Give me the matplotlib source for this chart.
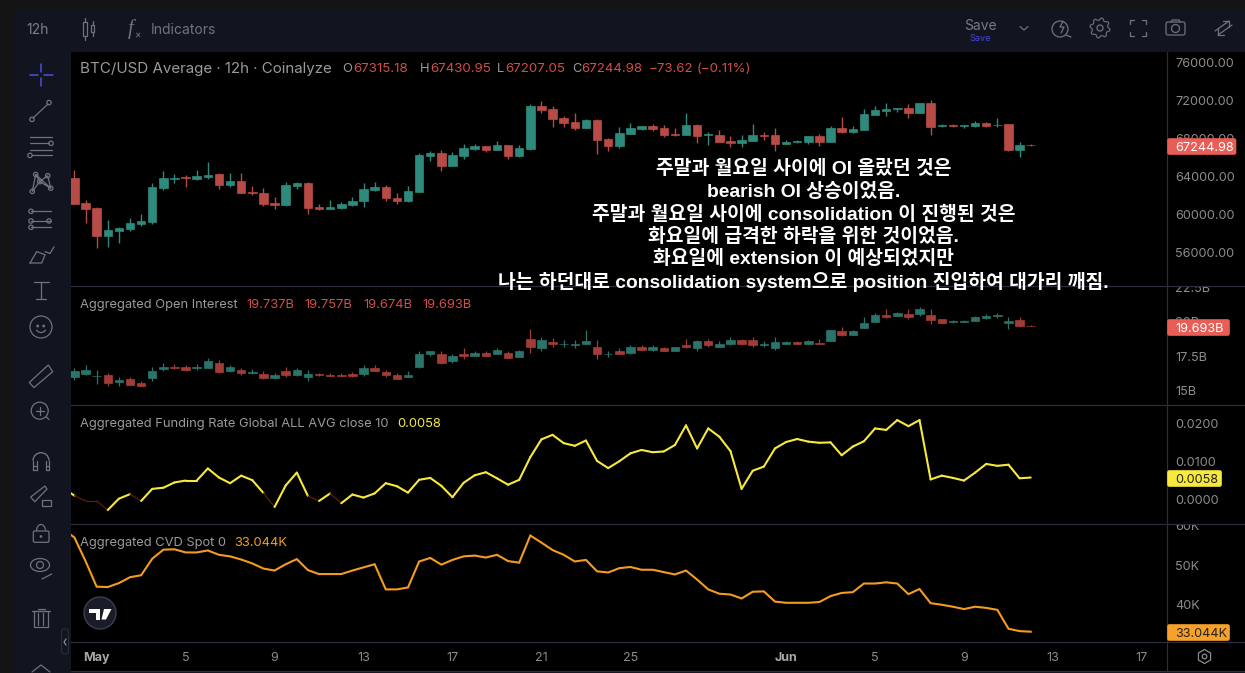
import numpy as np
import pandas as pd
import matplotlib
matplotlib.use("Agg")
import matplotlib.pyplot as plt
import matplotlib.dates as mdates
from matplotlib.patches import Rectangle, Circle, FancyBboxPatch, Polygon, Arc, Ellipse
from matplotlib.transforms import Bbox
from matplotlib.collections import LineCollection

W, H = 1245, 673
plt.rcParams['font.family'] = ['Inter', 'DejaVu Sans']

# ---------- data ----------
price_o = [63820,61190,60660,57720,58240,58450,58980,59190,62770,63720,63890,63720,63930,64240,63080,63500,62350,62240,61190,60980,62980,63300,60770,60560,60660,60980,61400,62560,62870,61720,61400,62350,66140,66450,65080,66140,66870,67190,66770,67300,66140,66870,71400,71080,70140,69720,69080,69930,67930,67190,68450,68980,69300,69080,68420,68350,69400,68350,68350,67720,67500,67720,68350,68350,67400,67610,67610,68240,67610,69080,68660,68870,70450,70870,71080,71190,70660,71720,69300,69400,69300,69300,69610,69360,69500,66770,67315.18]
price_h = [64660,61505,60770,59400,58660,59610,60030,63300,64560,64240,64100,64660,65500,64350,64350,64350,62980,62770,61820,63400,63400,63400,61080,61500,61300,61820,63300,63400,63080,62240,62980,66450,66660,66770,66560,67400,67400,67190,67720,67300,67300,71610,71930,71400,70350,70660,70030,70030,68030,69190,69610,69300,69500,69400,69080,70660,69500,68660,68870,68240,68350,69500,68660,69080,67820,67820,68240,68450,69300,70240,69300,71080,71400,71720,71190,71610,71720,72030,69500,69500,69360,69820,69720,70140,69500,67610,67430.95]
price_l = [61080,59080,56450,56560,56980,58240,58770,58980,62560,63300,62870,63610,63720,62660,62870,62240,62030,60870,60560,60870,62660,60030,60450,60560,60560,60870,60770,62450,61400,61080,61300,62350,65610,64560,65080,65820,66770,66560,66770,65820,66030,66770,70660,69190,69190,68870,69080,66350,66660,66980,68450,68870,68770,68140,68240,68350,67500,67300,67610,67080,67080,67720,67820,66660,67400,67500,67400,67190,67610,68560,68560,68870,70450,70350,70770,70140,70660,68350,69190,69190,69080,69190,69190,69190,66660,66030,67207.05]
price_c = [61080,60560,57720,58350,58560,59080,59290,62870,63820,63820,63790,64030,64140,63080,63500,62240,62240,61080,60980,63080,63300,60660,60560,60770,61080,61400,62660,62870,61720,61400,62450,66240,66450,65080,66240,66980,67190,66770,67300,66140,66980,71400,70980,70030,69610,69080,69930,67820,67190,68560,69080,69300,68980,68350,68350,69400,68240,68450,67610,67540,67820,68350,68240,67400,67610,67720,68240,67610,69080,68660,68980,70560,70980,71080,71190,70660,71720,69190,69400,69300,69360,69610,69300,69430,66770,67300,67244.98]

oi_o = [16.01,16.23,16.06,16.16,15.64,15.86,15.57,15.93,16.60,16.74,16.74,16.67,16.67,17.04,16.45,16.52,16.30,16.23,15.93,16.45,16.16,16.01,16.23,16.16,16.16,16.23,16.23,16.67,16.38,16.16,16.01,16.74,17.63,17.63,17.18,17.63,17.55,17.77,17.63,17.77,17.48,18.73,18.07,18.51,18.36,18.29,18.36,18.21,17.65,17.85,17.77,18.21,17.99,18.07,17.85,18.29,18.07,18.58,18.14,18.36,18.65,18.65,18.29,18.07,18.43,18.51,18.43,18.48,18.58,19.32,19.02,19.54,19.98,20.49,20.42,20.565,20.565,20.49,20.20,19.98,20.00,20.05,20.27,20.47,19.90,20.12,19.737]
oi_h = [16.67,16.89,16.52,16.30,16.01,16.01,15.71,16.74,17.04,16.96,16.89,16.96,17.40,17.25,16.89,16.67,16.60,16.45,16.30,16.74,16.67,16.52,16.30,16.30,16.30,16.38,16.89,16.89,16.52,16.30,16.45,17.92,17.92,17.85,17.70,18.07,17.92,17.85,18.07,17.92,17.99,19.46,18.87,18.80,18.65,18.65,19.39,18.65,17.92,18.07,18.29,18.29,18.29,18.14,18.21,18.73,18.65,18.73,18.58,18.87,18.73,18.87,18.58,18.87,18.58,18.58,18.65,18.73,19.39,19.61,19.39,20.345,20.64,20.93,20.71,20.93,21.08,20.93,20.20,20.12,20.12,20.42,20.565,20.64,20.345,20.345,19.757]
oi_l = [15.79,16.16,15.49,15.35,15.35,15.42,15.35,15.71,16.45,16.60,16.45,16.52,16.67,16.30,16.38,16.16,16.23,15.86,15.86,16.01,16.08,15.71,16.08,16.08,16.08,16.01,16.08,16.45,16.01,15.86,16.01,16.67,17.55,16.96,17.04,17.33,17.55,17.55,17.63,17.40,17.48,17.77,17.92,18.21,18.21,18.07,18.36,17.33,17.48,17.63,17.70,17.99,17.92,17.85,17.85,18.07,17.92,18.21,18.14,18.29,18.36,18.21,18.21,17.99,18.36,18.36,18.36,18.36,18.58,18.95,19.02,19.54,19.98,20.27,20.42,20.20,20.42,19.83,19.83,19.90,19.98,20.05,20.20,20.27,19.46,19.61,19.674]
oi_c = [16.45,16.52,16.08,15.57,15.79,15.42,15.35,16.45,16.74,16.67,16.52,16.74,17.18,16.38,16.74,16.30,16.38,15.93,16.16,16.16,16.52,16.23,16.16,16.08,16.08,16.08,16.67,16.45,16.16,15.86,16.16,17.63,17.85,17.04,17.55,17.55,17.77,17.55,17.99,17.40,17.92,18.14,18.65,18.36,18.43,18.36,18.58,17.70,17.70,17.70,18.14,17.99,18.14,17.85,18.14,18.21,18.58,18.29,18.43,18.65,18.43,18.29,18.43,18.51,18.51,18.41,18.58,18.41,19.39,19.02,19.32,19.90,20.49,20.345,20.64,20.345,20.93,20.12,19.90,20.05,20.05,20.345,20.42,20.52,20.05,19.68,19.693]

# the line panes also show the bar just before the first candle
funding = [0.0030,0.0010,-0.0004,-0.0004,-0.0028,0.0002,0.0014,-0.0004,0.0028,0.0031,0.0045,0.0050,0.0050,0.0082,0.0058,0.0043,0.0063,0.0051,0.0017,-0.0020,0.0037,0.0071,0.0009,-0.0004,0.0016,-0.0010,0.0013,0.0005,0.0016,0.0043,0.0035,0.0018,0.0052,0.0057,0.0036,0.0006,0.0044,0.0064,0.0072,0.0056,0.0039,0.0052,0.0112,0.0159,0.0171,0.0149,0.0142,0.0156,0.0102,0.0083,0.0101,0.0122,0.0131,0.0125,0.0127,0.0144,0.0196,0.0135,0.0188,0.0166,0.0128,0.0028,0.0076,0.0087,0.0135,0.0152,0.0160,0.0153,0.0150,0.0151,0.0117,0.0140,0.0154,0.0188,0.0184,0.0210,0.0194,0.0210,0.0053,0.0063,0.0057,0.0050,0.0071,0.0094,0.0089,0.0092,0.0056,0.0058]
funding_dim_from = [1,2,3,6,18,22,24]   # bars whose segment to the next bar is drawn dim
cvd = [59.1,57.0,51.0,44.5,44.4,45.4,46.9,47.4,51.6,53.9,54.0,53.2,53.2,53.7,52.6,52.2,51.4,50.4,49.1,48.6,50.2,51.5,48.7,47.7,47.7,47.7,48.6,49.4,50.2,43.8,43.8,44.3,50.9,51.8,50.1,51.3,52.2,52.4,51.9,52.6,51.0,50.6,57.5,55.7,53.8,52.6,50.9,51.3,48.4,48.1,49.2,49.5,48.8,48.8,48.2,47.6,48.6,46.3,43.8,42.7,42.5,41.5,43.2,43.3,40.7,40.4,40.4,40.4,40.6,42.1,42.9,43.1,45.3,45.3,45.6,45.3,42.6,43.9,40.3,39.9,39.4,38.8,39.4,39.1,38.6,33.8,33.2,33.044]

bars = pd.date_range('2024-04-30 00:00', periods=len(price_o), freq='12h')
line_bars = pd.date_range('2024-04-29 12:00', periods=len(cvd), freq='12h')

tick_dates = ['2024-05-01','2024-05-05','2024-05-09','2024-05-13','2024-05-17','2024-05-21','2024-05-25','2024-06-01','2024-06-05','2024-06-09','2024-06-13','2024-06-17']
tick_labels = ['May','5','9','13','17','21','25','Jun','5','9','13','17']
price_ticks = [56000,60000,64000,68000,72000,76000]
oi_ticks = [15,17.5,20,22.5]
oi_tick_labels = ['15B','17.5B','20B','22.5B']
funding_ticks = [0.0,0.01,0.02]
cvd_ticks = [40,50,60]
cvd_tick_labels = ['40K','50K','60K']

notes = ['주말과 월요일 사이에 OI 올랐던 것은',
         'bearish OI 상승이었음.',
         '주말과 월요일 사이에 consolidation 이 진행된 것은',
         '화요일에 급격한 하락을 위한 것이었음.',
         '화요일에 extension 이 예상되었지만',
         '나는 하던대로 consolidation system으로 position 진입하여 대가리 깨짐.']

# ---------- palette ----------
PANEL = '#12151f'; OUTER = '#141414'; SEP = '#2c2c3c'; TXT = '#9a9a9a'; AX = '#8c8c8c'; ICON = '#6f7380'
UP, DN = '#2e8a7c', '#b84b45'
UP2, DN2 = '#29756b', '#a33c37'
RED = '#cf4f49'; YEL = '#f7e93e'; ORG = '#f39c1f'; BADGE = '#e85d55'

fig = plt.figure(figsize=(W/100, H/100), dpi=100, facecolor=PANEL)

def pane(top, bot):
    ax = fig.add_axes([71/W, 1-bot/H, (1167-71)/W, (bot-top)/H], facecolor='black', zorder=2)
    for s in ax.spines.values():
        s.set_visible(False)
    return ax

bg = fig.add_axes([0, 0, 1, 1], zorder=0); bg.set_xlim(0, W); bg.set_ylim(H, 0); bg.axis('off')
bg.add_patch(Rectangle((0, 0), 14, H, color=OUTER, lw=0))
bg.add_patch(Rectangle((0, 0), W, 9, color=OUTER, lw=0))
bg.add_patch(Rectangle((1167, 52), W-1167, 619, color='black', lw=0))
bg.add_patch(Rectangle((71, 642), W-71, 29, color='black', lw=0))

a1 = pane(52, 286); a2 = pane(286, 405); a3 = pane(405, 524); a4 = pane(524, 642)

def candles(ax, o, h, l, c, up, dn, lw):
    o, h, l, c = map(np.array, (o, h, l, c))
    x = mdates.date2num(bars)
    col = np.where(c >= o, up, dn)
    ax.vlines(x, l, h, colors=col, lw=lw, zorder=2)
    ax.bar(x, np.abs(c-o), bottom=np.minimum(o, c), width=0.38, color=col, edgecolor=col, lw=0.5, zorder=3)

candles(a1, price_o, price_h, price_l, price_c, UP, DN, 1.0)
candles(a2, oi_o, oi_h, oi_l, oi_c, UP2, DN2, 0.9)

xl = mdates.date2num(line_bars)
pts = np.column_stack([xl, funding])
segs = np.stack([pts[:-1], pts[1:]], axis=1)
cols = ['#5e1c12' if i in funding_dim_from else YEL for i in range(len(segs))]
widths = [0.9 if i in funding_dim_from else 1.5 for i in range(len(segs))]
a3.add_collection(LineCollection(segs, colors=cols, linewidths=widths, capstyle='round'))
a4.plot(xl, cvd, color=ORG, lw=1.5, solid_joinstyle='miter')

x0 = mdates.date2num(bars[0]); step = 0.5
xlim = (x0 + (71-74.4)/11.12*step, x0 + (1167-74.4)/11.12*step)
ylims = {a1: (52453, 77084), a2: (13.95, 22.62), a3: (-0.0065, 0.0250), a4: (30.43, 60.43)}
ticks = {a1: (price_ticks, [f'{v:.2f}' for v in price_ticks]),
         a2: (oi_ticks, oi_tick_labels),
         a3: (funding_ticks, [f'{v:.4f}' for v in funding_ticks]),
         a4: (cvd_ticks, cvd_tick_labels)}
extent = {a1: (52, 286), a2: (287, 405), a3: (406, 524), a4: (525, 642)}
for ax in (a1, a2, a3, a4):
    ax.set_xlim(*xlim); ax.set_ylim(*ylims[ax])
    ax.yaxis.tick_right()
    ax.set_yticks(ticks[ax][0]); ax.set_yticklabels(ticks[ax][1], fontsize=9.1, color=AX)
    ax.tick_params(axis='y', length=0, pad=6)
    t, b = extent[ax]
    for lab in ax.get_yticklabels():
        lab.set_verticalalignment('center_baseline')
        lab.set_clip_box(Bbox.from_extents(1167, H-b, W, H-t))
        lab.set_clip_on(True)
    if ax is not a4:
        ax.set_xticks([])

a4.set_xticks(mdates.date2num(pd.to_datetime(tick_dates)))
a4.set_xticklabels(tick_labels, fontsize=9.0, color=AX)
a4.tick_params(axis='x', length=0, pad=7.5)
for lab, s in zip(a4.get_xticklabels(), tick_labels):
    if s in ('May', 'Jun'):
        lab.set_fontweight('bold'); lab.set_color('#a8a8a8')

# ---------- overlay in pixel space ----------
ov = fig.add_axes([0, 0, 1, 1], zorder=10); ov.set_xlim(0, W); ov.set_ylim(H, 0); ov.axis('off'); ov.patch.set_alpha(0)

for y in (286, 405, 524, 642, 671):
    ov.plot([71, W], [y, y], color=SEP, lw=0.9)
ov.plot([1167, 1167], [52, 671], color=SEP, lw=0.9)

def T(x, y, s, color=TXT, size=9.3, ha='left', **k):
    ov.text(x, y, s, color=color, fontsize=size, ha=ha, va='center_baseline', **k)

T(80, 67.5, 'BTC/USD Average · 12h · Coinalyze', size=10.9)
for x, s, c in [(342.5, 'O', TXT), (353.5, '67315.18', RED), (420, 'H', TXT), (430, '67430.95', RED),
                (497, 'L', TXT), (505, '67207.05', RED), (572, 'C', TXT), (581.5, '67244.98', RED),
                (649, '−73.62', RED), (697, '(−0.11%)', RED)]:
    T(x, 67.5, s, c, size=9.6 if c == RED else 9.3)
T(80.5, 303.5, 'Aggregated Open Interest')
for x, s in [(246, '19.737B'), (304.6, '19.757B'), (363.6, '19.674B'), (422.5, '19.693B')]:
    T(x, 303.5, s, RED)
T(80.5, 422.5, 'Aggregated Funding Rate Global ALL AVG close 10')
T(396.8, 422.5, '0.0058', YEL)
T(80.5, 541.5, 'Aggregated CVD Spot 0')
T(234, 541.5, '33.044K', ORG)

for (y0, y1, x1, c, s, tc) in [(138, 155, 1236.5, BADGE, '67244.98', 'white'),
                               (319, 336, 1230, BADGE, '19.693B', 'white'),
                               (470, 487, 1222, YEL, '0.0058', '#222222'),
                               (624, 641, 1230, '#f5a12a', '33.044K', '#222222')]:
    ov.add_patch(FancyBboxPatch((1168, y0+1), x1-1169, y1-y0-2, boxstyle='round,pad=0,rounding_size=1.5',
                                fc=c, ec=c, lw=1.2, zorder=5))
    T(1175, (y0+y1)/2, s, tc, size=9.1, zorder=6)

for y, s in zip([167.5, 190, 212.5, 234.8, 257.3, 279.5], notes):
    ov.text(803.5, y, s, color='white', fontsize=13.9, fontweight='bold', ha='center', va='center_baseline',
            family=['Liberation Sans', 'Noto Sans CJK KR'], zorder=7)

# toolbar text
T(26, 29, '12h', '#7c7f88', size=10)
T(151, 29, 'Indicators', '#6f737e', size=10)
T(980.5, 24, 'Save', '#777a84', size=10, ha='center')
T(980.5, 37.5, 'Save', '#4146d8', size=6.5, ha='center')

def L(xs, ys, c=ICON, lw=0.9, **k):
    ov.plot(xs, ys, color=c, lw=lw, solid_capstyle='round', **k)
def C(x, y, r, c=ICON, lw=0.9, fc='none'):
    ov.add_patch(Circle((x, y), r, fc=fc, ec=c, lw=lw))
def R(x, y, w, h, c=ICON, lw=0.9, fc='none'):
    ov.add_patch(Rectangle((x, y), w, h, fc=fc, ec=c, lw=lw))

# top icons
R(83, 22, 4, 14); L([85, 85], [18, 22]); L([85, 85], [36, 40]); R(91, 25, 3, 7); L([92.5, 92.5], [21, 25]); L([92.5, 92.5], [32, 36])
T(127.5, 27, 'f', ICON, size=15, style='italic', family='Liberation Serif'); T(135.5, 34, '×', ICON, size=7)
L([1020, 1024, 1028], [26.5, 30, 26.5])
C(1060, 29, 8); L([1066, 1071], [35, 37]); L([1063, 1060, 1064, 1061], [21, 27, 27, 33])
th = np.deg2rad(np.arange(0, 360, 11.25) + 5.6)
rr = np.array([10, 10, 8, 8] * 8)
ov.add_patch(Polygon(np.column_stack([1100+rr*np.cos(th), 28+rr*np.sin(th)]), fc='none', ec=ICON, lw=0.8))
C(1100, 28, 3)
for sx, sy in [(1, 1), (-1, 1), (1, -1), (-1, -1)]:
    L([1138+sx*8, 1138+sx*8, 1138+sx*4], [28+sy*4, 28+sy*8, 28+sy*8])
ov.add_patch(FancyBboxPatch((1166, 22), 19, 13, boxstyle='round,pad=0,rounding_size=2', fc='none', ec=ICON, lw=0.9))
C(1175.5, 28.5, 4); L([1171, 1172, 1179, 1180], [22, 20, 20, 22])
L([1215, 1229], [31, 21]); L([1223, 1229, 1229], [21, 21, 27]); L([1218, 1232], [35, 25]); L([1218, 1218, 1224], [29, 35, 35])

# left toolbar icons
B = '#4a50e0'
L([30, 38], [75, 75], B, 1.1); L([44, 53], [75, 75], B, 1.1); L([41, 41], [64, 72], B, 1.1); L([41, 41], [78, 86], B, 1.1)
L([33, 48], [118, 104]); C(32, 119.4, 2.2); C(49, 102.6, 2.2)
L([30, 52], [137.4, 137.4]); L([30, 49], [143.3, 143.3]); L([30, 52], [149.5, 149.5]); L([32, 52], [155.4, 155.4]); C(51, 143.3, 2.2); C(30, 155.4, 2.2)
L([35.7, 32.3, 39.7, 50.7, 47.7, 39.7, 35.7, 50.7], [174.5, 191.4, 181.6, 188.2, 175.7, 181.6, 174.5, 188.2])
for x, y in [(35.7, 174.5), (47.7, 175.7), (32.3, 191.4), (50.7, 188.2), (39.7, 181.6)]:
    C(x, y, 2.2, fc=PANEL)
for y in (211.3, 221, 227.3):
    L([31, 51], [y, y]); C(31, y, 2.2, fc=PANEL)
C(49, 221, 2.2, fc=PANEL)
L([30, 41.7, 45, 36.7, 30], [263, 263, 254.7, 251.6, 263]); L([45, 50, 54], [251.6, 253.5, 246.9])
L([34, 49], [282, 282]); L([41, 41], [282, 299]); L([36, 46], [299, 299])
C(41, 327, 11); C(37.7, 326, 0.8); C(43.7, 326, 0.8); ov.add_patch(Arc((41, 328), 10, 9, theta1=20, theta2=160, ec=ICON, lw=0.9))
ov.add_patch(Polygon([[29.3, 382.5], [48.3, 365], [52.7, 371.6], [34, 387.6]], fc='none', ec=ICON, lw=0.9))
C(39.7, 410.7, 8.5); L([36, 43.5], [410.7, 410.7]); L([39.7, 39.7], [407, 414.5]); L([46, 49], [416.7, 419.6])
ov.add_patch(Arc((41, 460.7), 16, 16, theta1=180, theta2=360, ec=ICON, lw=1.0))
for xa in (33, 36.5, 45.5, 49):
    L([xa, xa], [460.7, 469.7])
L([33, 36.5], [469.7, 469.7]); L([45.5, 49], [469.7, 469.7]); L([33, 36.5], [466, 466]); L([45.5, 49], [466, 466])
ov.add_patch(Polygon([[30.7, 497], [45, 486], [47, 489], [34.7, 501.8]], fc='none', ec=ICON, lw=0.9)); R(42.3, 499.8, 8.3, 6.6)
ov.add_patch(FancyBboxPatch((33.3, 531), 15.7, 11.3, boxstyle='round,pad=0,rounding_size=1.5', fc='none', ec=ICON, lw=0.9))
ov.add_patch(Arc((41, 531), 9, 13, theta1=180, theta2=350, ec=ICON, lw=0.9)); C(41, 536.5, 0.7, fc=ICON)
ov.add_patch(Ellipse((40, 565), 19, 13, fc='none', ec=ICON, lw=0.9)); C(40, 565, 3.5); L([42, 51.7], [579, 574])
R(34.3, 611, 14, 16.4); L([32, 50], [611, 611]); L([38, 45], [608.5, 608.5]); L([37.7, 37.7], [613, 625]); L([43.3, 43.3], [613, 625])
L([32, 41, 50], [672, 665, 672])

# collapse tab, logo, settings
ov.add_patch(FancyBboxPatch((61.5, 629), 7, 25, boxstyle='round,pad=0,rounding_size=3', fc=PANEL, ec='#2b2e3a', lw=0.8))
L([66, 64, 66], [639, 642, 645], '#8a8d96')
ov.add_patch(Circle((100, 613), 16, fc='#1a1d29', ec='#3b3e4b', lw=1.0, zorder=4))
ov.add_patch(Polygon([[89, 609], [99.5, 609], [99.5, 619.5], [95.5, 619.5], [95.5, 613], [89, 613]], fc='white', ec='none', zorder=5))
ov.add_patch(Polygon([[104, 609], [111.5, 609], [106, 619.5], [101.5, 619.5]], fc='white', ec='none', zorder=5))
ang = np.deg2rad(np.arange(30, 390, 60))
ov.add_patch(Polygon(np.column_stack([1204.5+7*np.cos(ang), 656.5+7*np.sin(ang)]), fc='none', ec='#8c8c8c', lw=0.9))
C(1204.5, 656.5, 2.3, c='#8c8c8c')

fig.savefig('out.png', dpi=100, facecolor=fig.get_facecolor())
